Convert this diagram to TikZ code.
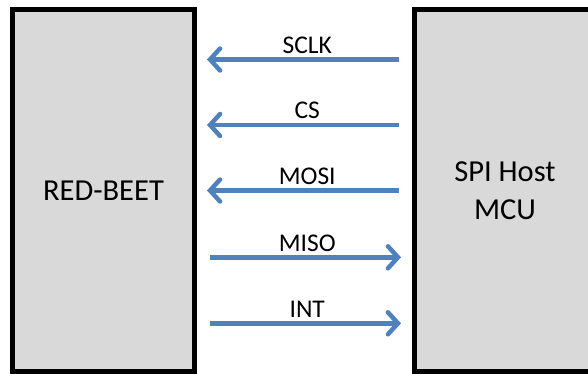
\documentclass[tikz,border=0pt]{standalone}
\usepackage{fontspec}
\setmainfont{Carlito}
\usetikzlibrary{arrows.meta}

\definecolor{sigblue}{RGB}{79,129,189}
\definecolor{boxgray}{RGB}{217,217,217}

\begin{document}
\begin{tikzpicture}[x=1pt, y=-1pt,
        chip/.style={shape=rectangle, draw=black, fill=boxgray, line width=5pt,
            minimum width=182pt, minimum height=362pt, align=center,
            font=\fontsize{30.5}{37.7}\selectfont},
        sig/.style={draw=sigblue, line width=4.5pt,
            -{Straight Barb[length=10pt, width=22pt, line cap=round]}},
        lbl/.style={anchor=base, yshift=6pt, xshift=3pt, inner sep=0pt,
            font=\fontsize{25.5}{30}\selectfont}]
        \useasboundingbox (0, 0) rectangle (588, 374);
        \node[chip] (beet) at (103.5, 190.5) {RED-BEET};
        \node[chip] (host) at (505, 190.5) {SPI Host\\MCU};
        % host to beet
        \foreach \txt/\y in {SCLK/59.5, CS/125, MOSI/190.5}
            \draw[sig, shorten <=12.5pt, shorten >=10pt] (host.west |- 0, \y) to node[lbl] {\txt} (beet.east |- 0, \y);
        % beet to host
        \foreach \txt/\y in {MISO/257.3, INT/323.3}
            \draw[sig, shorten <=13pt, shorten >=10.5pt] (beet.east |- 0, \y) to node[lbl] {\txt} (host.west |- 0, \y);
    \end{tikzpicture}
\end{document}
